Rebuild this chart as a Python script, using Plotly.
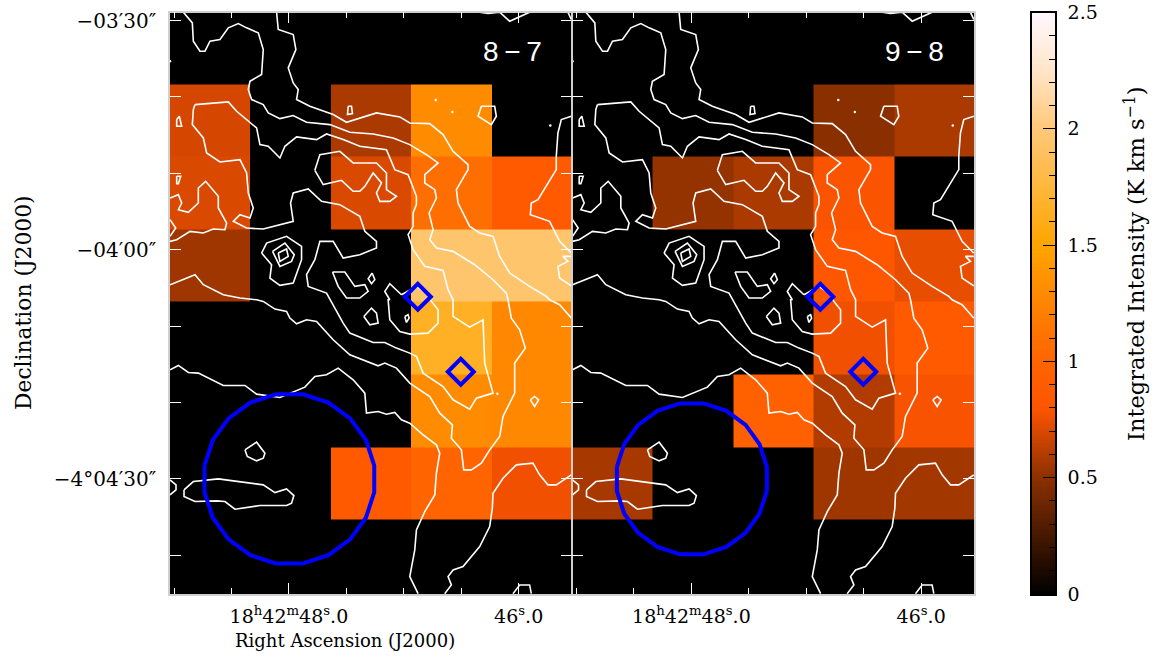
import numpy as np
import plotly.graph_objects as go

# Map pixels: RA edges in seconds past 18h42m, Dec edges in arcsec relative to -4d00m00s
ra_edges = [49.035, 48.339, 47.635, 46.939, 46.235, 45.54]
dec_edges = [31.05, 21.62, 12.18, 2.62, -6.81, -16.38, -25.94, -35.37, -45.07]

intensity_87 = [
    [0, 0, 0, 0, 0],
    [0.69, 0, 0.58, 1.31, 0],
    [0.70, 0, 0.70, 1.08, 0.87],
    [0.55, 0, 0, 1.95, 1.95],
    [0, 0, 0, 1.65, 1.28],
    [0, 0, 0, 1.31, 1.28],
    [0, 0, 0.87, 1.0, 0.76],
    [0, 0, 0, 0, 0],
]
intensity_98 = [
    [0, 0, 0, 0, 0],
    [0, 0, 0, 0.49, 0.58],
    [0, 0.52, 0.58, 0.79, 0],
    [0, 0, 0, 0.83, 0.74],
    [0, 0, 0, 0.76, 0.87],
    [0, 0, 0.95, 0.60, 0.78],
    [0.57, 0, 0, 0.55, 0.56],
    [0, 0, 0, 0, 0],
]

# Contours digitised on a map grid (3 grid units per image pixel)
c_ridge = [(350,38),(355,90),(400,105),(408,150),(385,205),(400,250),(415,270),(410,300),(450,320),(520,345),(560,368),(600,355),(650,340),(720,352),(750,370),(810,372),(850,405),(880,455),(925,495),(925,510),(890,570),(895,610),(930,680),(960,700),(1000,710),(1020,770),(1050,820),(1110,860),(1160,890),(1170,900),(1200,915),(1235,955)]
c_east = [(70,38),(97,70),(100,125),(120,155),(135,155),(150,125),(180,120),(205,85),(235,72),(260,85),(295,100),(310,150),(305,225),(270,245),(265,270),(275,300),(310,315),(325,340),(360,357),(400,348),(440,368),(510,375),(570,398),(640,403),(700,415),(750,435),(800,465),(835,490),(795,525),(795,550),(825,570),(830,595),(808,640),(820,690),(810,720),(830,745),(880,755),(945,795),(1000,840),(1040,880),(1045,900),(1055,955),(1080,990),(1097,1045),(1065,1090),(1065,1180),(1030,1250),(1020,1310),(990,1350),(965,1390),(935,1410),(912,1410),(905,1350),(875,1315),(878,1275),(840,1240),(810,1190),(750,1150),(710,1105),(675,1090),(655,1098),(570,1065),(520,1020),(470,965),(440,960),(410,972),(390,955),(380,935),(345,928),(310,905),(290,900),(240,895),(190,885),(130,855),(105,825),(30,855)]
c_inner = [(105,315),(205,307),(230,335),(270,370),(290,385),(300,435),(325,440),(360,475),(375,440),(410,412),(470,420),(500,403),(550,420),(600,440),(680,450),(705,510),(745,525),(770,590),(770,615),(760,640),(760,680),(745,705),(760,750),(795,800),(850,812),(865,870),(880,900),(880,950),(930,982),(970,960),(975,1090),(1000,1180),(950,1195),(930,1228),(880,1200),(850,1160),(790,1120),(770,1070),(750,1060),(710,1045),(675,1028),(640,1028),(570,1000),(550,970),(510,900),(500,880),(445,860),(440,825),(465,780),(480,725),(520,725),(550,775),(600,765),(650,745),(650,725),(615,695),(600,650),(540,615),(485,605),(445,568),(400,580),(392,610),(400,665),(310,688),(260,685),(220,665),(240,645),(270,655),(280,625),(265,580),(260,520),(240,480),(180,487),(140,460),(130,415),(97,375),(100,330),(105,315)]
c_core = [(465,512),(480,465),(540,455),(580,490),(650,490),(680,520),(680,570),(710,590),(690,605),(660,605),(650,580),(665,550),(640,520),(615,560),(600,575),(580,575),(545,542),(510,550),(490,555),(465,512)]
c_west = [(30,595),(55,585),(65,610),(55,630),(85,638),(115,610),(115,565),(137,545),(175,590),(175,625),(200,670),(195,690),(160,688),(130,700),(90,695),(50,720),(30,725)]
c_west_arc = [(30,660),(47,685),(30,710)]
c_ring_outer = [(305,760),(320,730),(380,710),(425,740),(425,780),(400,850),(360,857),(330,835),(335,795),(305,760)]
c_ring_mid = [(338,755),(375,730),(403,765),(395,785),(360,800),(338,755)]
c_ring_in = [(355,760),(380,748),(385,770),(360,785),(355,760)]
c_small_a = [(565,320),(575,320),(578,342),(563,345),(565,320)]
c_small_b = [(50,360),(58,350),(65,380),(50,380),(50,360)]
c_small_c = [(50,530),(62,530),(55,552),(50,552),(50,530)]
c_knot = [(965,320),(1005,320),(1010,350),(995,375),(955,350),(965,320)]
c_top = [(960,38),(985,42),(1020,38),(1050,65),(1110,38)]
c_top_edge = [(1225,38),(1235,60)]
c_rim = [(1235,350),(1205,360),(1195,400),(1190,470),(1190,510),(1165,550),(1135,600),(1115,610),(1112,645),(1170,665),(1200,725),(1235,760)]
c_rim_b = [(1235,770),(1210,770),(1225,785),(1195,800),(1200,835),(1235,858)]
c_dia = [(637,820),(645,840),(635,852),(625,837),(637,820)]
c_blob = [(518,817),(555,817),(585,860),(615,855),(625,875),(600,895),(560,895),(535,860),(518,817)]
c_src = [(725,885),(690,852),(675,875),(690,900),(685,900),(690,960),(720,995),(750,1003),(805,1000),(835,970),(835,930),(815,905),(800,880),(770,860),(725,885)]
c_pea = [(612,950),(635,925),(650,940),(655,970),(630,975),(612,950)]
c_tiny = [(735,950),(745,945),(748,955),(740,968),(735,950)]
c_ne = [(1112,1200),(1125,1190),(1137,1200),(1125,1220),(1112,1200)]
c_south = [(30,1110),(55,1097),(85,1118),(115,1120),(190,1157),(255,1157),(290,1183),(360,1193),(435,1162),(465,1130),(500,1125),(535,1105),(580,1140),(615,1180),(620,1240),(655,1235),(680,1243),(705,1238),(725,1260),(750,1270),(790,1305),(830,1335),(840,1360),(830,1420),(825,1485),(795,1535),(770,1590),(765,1650),(750,1730),(775,1781)]
c_low = [(1235,1425),(1190,1455),(1165,1455),(1140,1425),(1120,1390),(1070,1395),(1030,1435),(1000,1480),(998,1525),(990,1580),(960,1640),(910,1700),(880,1710),(865,1730),(875,1755),(855,1781)]
c_foot = [(1060,1781),(1080,1755),(1110,1755),(1115,1781)]
c_beam_a = [(255,1350),(290,1327),(315,1360),(310,1375),(290,1383),(262,1370),(255,1350)]
c_beam_b = [(72,1470),(100,1445),(175,1437),(240,1445),(310,1455),(345,1478),(380,1467),(402,1487),(395,1510),(380,1517),(300,1517),(225,1528),(195,1505),(170,1503),(105,1505),(72,1490),(72,1470)]
c_edge = [(30,1440),(48,1455),(48,1470),(30,1485)]
contours = [c_ridge, c_east, c_inner, c_core, c_west, c_west_arc, c_ring_outer, c_ring_mid, c_ring_in,
            c_small_a, c_small_b, c_small_c, c_knot, c_top, c_top_edge, c_rim, c_rim_b, c_dia, c_blob,
            c_src, c_pea, c_tiny, c_ne, c_south, c_low, c_foot, c_beam_a, c_beam_b, c_edge]
specks = [(828,301),(878,337),(1172,378),(30,185),(1013,1182)]

source_ra = [46.878, 46.504]
source_dec = [-6.16, -15.98]
beam_ra = 47.996
beam_dec = -30.0
beam_radius_ra = [0.748, 0.661]
beam_radius_dec = [11.2, 10.0]

ra_minor_ticks = [49.0, 48.5, 47.5, 47.0, 46.5, 45.5]
ra_major_ticks = [48.0, 46.0]
ra_labels = ["18<sup>h</sup>42<sup>m</sup>48<sup>s</sup>.0", "46<sup>s</sup>.0"]
dec_ticks = [30, 0, -30]
dec_minor_ticks = [20, 10, -10, -20, -40]
dec_labels = ["\u221203\u203230\u2033", "\u221204\u203200\u2033", "\u22124\u00b004\u203230\u2033"]
cbar_ticks = [0, 0.5, 1, 1.5, 2, 2.5]
cbar_labels = ["0", "0.5", "1", "1.5", "2", "2.5"]
panel_names = ["8\u2009\u2212\u20097", "9\u2009\u2212\u20098"]

colors = [[0, "#000000"], [0.2, "#8C3000"], [0.32, "#FF5500"], [0.4, "#FF6400"], [0.6, "#FFA500"],
          [0.8, "#FFC878"], [0.9, "#FFE5C8"], [1, "#FFF8FF"]]

W, H = 1157, 661
FONT = "DejaVu Serif"


def to_ra(u):
    return 48 - (160 + u / 3 - 289) / 115


def to_dec(v):
    return -(v / 3 - 250) * 30 / 229


fig = go.Figure()
for i, (z, xa, ya) in enumerate([(intensity_87, "x", "y"), (intensity_98, "x2", "y2")]):
    fig.add_trace(go.Heatmap(z=z, x=ra_edges, y=dec_edges, xaxis=xa, yaxis=ya, zmin=0, zmax=2.5,
                             colorscale=colors, showscale=False, xgap=0, ygap=0))
    for c in contours:
        fig.add_trace(go.Scatter(x=[to_ra(p[0]) for p in c], y=[to_dec(p[1]) for p in c], mode="lines",
                                 xaxis=xa, yaxis=ya, showlegend=False, hoverinfo="skip",
                                 line=dict(color="white", width=1.6)))
    fig.add_trace(go.Scatter(x=[to_ra(p[0]) for p in specks], y=[to_dec(p[1]) for p in specks], mode="markers",
                             xaxis=xa, yaxis=ya, showlegend=False, marker=dict(color="white", size=2.5)))
    n = 20
    ang = (np.arange(n + 1) + 0.5) * 2 * np.pi / n
    fig.add_trace(go.Scatter(x=beam_ra + beam_radius_ra[i] * np.cos(ang), y=beam_dec + beam_radius_dec[i] * np.sin(ang),
                             mode="lines", xaxis=xa, yaxis=ya, showlegend=False,
                             line=dict(color="#0000FF", width=4)))
    fig.add_trace(go.Scatter(x=source_ra, y=source_dec, mode="markers", xaxis=xa, yaxis=ya, showlegend=False,
                             marker=dict(symbol="diamond-open", size=20, color="#0000FF", line=dict(width=4, color="#0000FF"))))

levels = np.linspace(0, 2.5, 256)
fig.add_trace(go.Heatmap(z=[[v] for v in levels], x=[0, 1], y=levels, xaxis="x3", yaxis="y3", zmin=0, zmax=2.5,
                         colorscale=colors, showscale=False, hoverinfo="skip"))

ydom = [(H - 594) / H, (H - 12.5) / H]
for name, dom in [("xaxis", [170 / W, 571.5 / W]), ("xaxis2", [572.5 / W, 974 / W])]:
    fig.layout[name] = dict(domain=dom, range=[ra_edges[0], ra_edges[-1]], tickmode="array",
                            tickvals=ra_major_ticks, ticktext=ra_labels, ticks="inside", ticklen=11, tickwidth=1,
                            tickcolor="white", mirror="ticks", showline=True, linecolor="#d0d0d0", linewidth=1.5,
                            showgrid=False, zeroline=False, ticklabelstandoff=4,
                            tickfont=dict(family=FONT, size=19, color="black"),
                            minor=dict(tickmode="array", tickvals=ra_minor_ticks, ticks="inside", ticklen=6,
                                       tickcolor="white", tickwidth=1, showgrid=False))
for name, anchor, labels in [("yaxis", "x", True), ("yaxis2", "x2", False)]:
    fig.layout[name] = dict(domain=ydom, anchor=anchor, range=[dec_edges[-1], dec_edges[0]], tickmode="array",
                            tickvals=dec_ticks, ticktext=dec_labels, ticks="inside", ticklen=11, tickwidth=1,
                            tickcolor="white", mirror="ticks", showline=True, linecolor="#d0d0d0", linewidth=1.5,
                            showgrid=False, zeroline=False, showticklabels=labels, ticklabelstandoff=8,
                            tickfont=dict(family=FONT, size=20, color="black"),
                            minor=dict(tickmode="array", tickvals=dec_minor_ticks, ticks="inside", ticklen=11,
                                       tickcolor="white", tickwidth=1, showgrid=False))
fig.layout["xaxis"]["anchor"] = "y"
fig.layout["xaxis2"]["anchor"] = "y2"
fig.layout["xaxis3"] = dict(domain=[1031.5 / W, 1055 / W], anchor="y3", range=[0, 1], showticklabels=False, ticks="",
                            showline=True, mirror=True, linecolor="black", linewidth=1.5, showgrid=False, zeroline=False)
fig.layout["yaxis3"] = dict(domain=ydom, anchor="x3", side="right", range=[0, 2.5], tickmode="array", tickvals=cbar_ticks,
                            ticktext=cbar_labels, ticks="inside", ticklen=12, tickwidth=1.2, tickcolor="black",
                            showline=True, linecolor="black", linewidth=1.5, mirror=True, showgrid=False, zeroline=False,
                            ticklabelstandoff=7, tickfont=dict(family=FONT, size=19, color="black"),
                            minor=dict(dtick=0.1, tick0=0, ticks="inside", ticklen=6, tickcolor="black", tickwidth=1.2, showgrid=False))

ann = [
    dict(text="Right Ascension (J2000)", x=345 / W, y=1 - 640 / H, font=dict(family=FONT, size=18, color="black"), textangle=0),
    dict(text="Declination (J2000)", x=23 / W, y=1 - 303 / H, font=dict(family=FONT, size=21.8, color="black"), textangle=-90),
    dict(text="Integrated Intensity (K km s<sup>\u22121</sup>)", x=1134 / W, y=1 - 264 / H, font=dict(family=FONT, size=22.5, color="black"), textangle=-90),
    dict(text=panel_names[0], x=512 / W, y=1 - 52 / H, font=dict(family="Liberation Sans", size=28, color="white")),
    dict(text=panel_names[1], x=914 / W, y=1 - 52 / H, font=dict(family="Liberation Sans", size=28, color="white")),
]
for a in ann:
    a.update(xref="paper", yref="paper", showarrow=False, xanchor="center", yanchor="middle")

fig.update_layout(width=W, height=H, autosize=False, margin=dict(l=0, r=0, t=0, b=0, autoexpand=False), paper_bgcolor="white",
                  plot_bgcolor="black", showlegend=False, annotations=ann)
fig.write_html("out.html", config={"displayModeBar": False},
               post_script="document.body.style.margin='0';document.documentElement.style.overflow='hidden';")
